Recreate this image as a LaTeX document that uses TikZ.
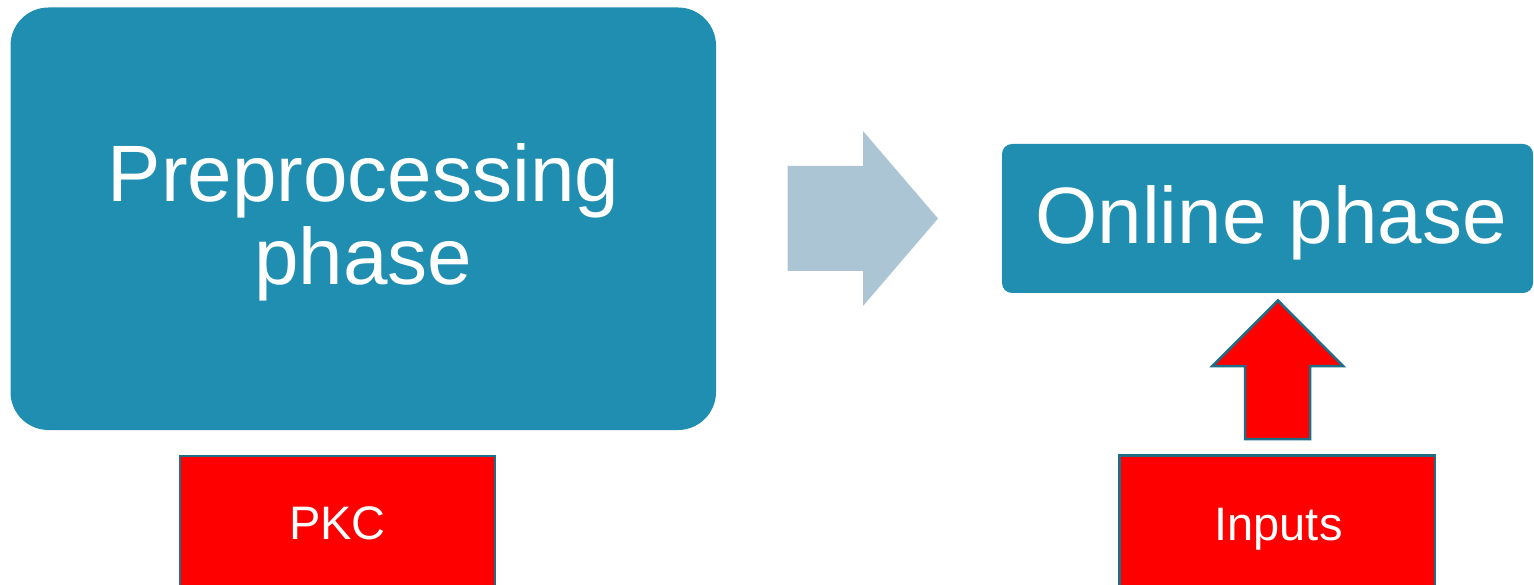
\documentclass[tikz,border=0pt]{standalone}
\usepackage{fontspec}
\setmainfont{Liberation Sans}
\definecolor{phaseblue}{HTML}{208EB0}
\definecolor{arrowgrey}{HTML}{ABC5D4}
\definecolor{tealedge}{HTML}{1F6E86}
\definecolor{redfill}{HTML}{FF0000}
\tikzset{
  phasebox/.style={fill=phaseblue, draw=none, inner sep=0pt},
  bigtext/.style={text=white, font=\fontsize{80}{83}\selectfont, align=center, inner sep=0pt},
  redbox/.style={fill=redfill, draw=tealedge, line width=2.5pt, inner sep=0pt},
  redtext/.style={text=white, font=\fontsize{47}{50}\selectfont, inner sep=0pt, anchor=base},
}
\begin{document}
\begin{tikzpicture}[x=1pt,y=-1pt]
\useasboundingbox (0,0) rectangle (1534,585);
% big preprocessing box
\node[phasebox, rounded corners=38pt, minimum width=705.5pt, minimum height=422.5pt] (pre) at (363.25,218.75) {};
\node[bigtext] (pretext) at (363.5,222) {Preprocessing\\phase};
% online box
\node[phasebox, rounded corners=10pt, minimum width=531pt, minimum height=149pt] (onl) at (1267.5,218.5) {};
\node[bigtext, anchor=base] (onltext) at (1271,244) {Online phase};
% grey block arrow
\coordinate (ga1) at (787.5,166);
\coordinate (ga2) at (863,166);
\coordinate (ga3) at (863,131);
\coordinate (gtip) at (938,218.5);
\coordinate (ga5) at (863,306);
\coordinate (ga6) at (863,271);
\coordinate (ga7) at (787.5,271);
\fill[arrowgrey] (ga1) -- (ga2) -- (ga3) -- (gtip) -- (ga5) -- (ga6) -- (ga7) -- cycle;
% PKC box
\node[redbox, minimum width=315pt, minimum height=132pt] (pkc) at (337.5,522) {};
\node[redtext] (pkctext) at (337.5,539.5) {PKC};
% Inputs box
\node[redbox, minimum width=315.5pt, minimum height=132pt] (inp) at (1277.25,521.5) {};
\node[redtext] (inptext) at (1278.5,540) {Inputs};
% red up arrow
\coordinate (ra1) at (1245,439);
\coordinate (ra2) at (1245,366);
\coordinate (ra3) at (1212.5,366);
\coordinate (rtip) at (1278,300.5);
\coordinate (ra5) at (1343,366);
\coordinate (ra6) at (1310,366);
\coordinate (ra7) at (1310,439);
\filldraw[fill=redfill, draw=tealedge, line width=2.5pt, line join=miter] (ra1) -- (ra2) -- (ra3) -- (rtip) -- (ra5) -- (ra6) -- (ra7) -- cycle;
\end{tikzpicture}
\end{document}
